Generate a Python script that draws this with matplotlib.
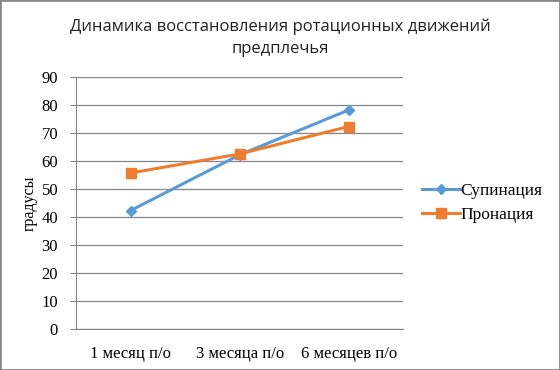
import matplotlib
matplotlib.use("Agg")
import matplotlib.pyplot as plt
from matplotlib.patches import Rectangle

categories = ["1 месяц п/о", "3 месяца п/о", "6 месяцев п/о"]
supination = [42.3, 62.2, 78.2]
pronation = [55.7, 62.5, 72.3]
yticks = list(range(0, 91, 10))

fig = plt.figure(figsize=(5.6, 3.7), dpi=100)
ax = fig.add_axes([0.136, 0.111, 0.584, 0.681])

x = range(len(categories))
ax.plot(x, supination, color="#5b9bd5", lw=2.2, marker="D", ms=5, label="Супинация")
ax.plot(x, pronation, color="#ed7d31", lw=2.2, marker="s", ms=7, label="Пронация")

ax.set_xlim(-0.5, len(categories) - 0.5)
ax.set_ylim(0, 90)
ax.set_yticks(yticks)
ax.set_xticks(list(x))
ax.set_xticklabels(categories)
serif = "Liberation Serif"
for lab in ax.get_xticklabels() + ax.get_yticklabels():
    lab.set_fontfamily(serif)
    lab.set_fontsize(12)
ax.tick_params(axis="x", length=0, pad=12)
ax.tick_params(axis="y", length=4, width=0.8, color="#868686", pad=9)
ax.grid(axis="y", color="#868686", lw=0.9)
ax.set_axisbelow(True)
for s in ["top", "right"]:
    ax.spines[s].set_visible(False)
ax.spines["left"].set_color("#868686")
ax.spines["bottom"].set_color("#868686")

ax.set_ylabel("градусы", fontfamily=serif, fontsize=11.5, labelpad=3)

fig.text(0.5, 0.898, "Динамика восстановления ротационных движений\nпредплечья",
         ha="center", va="center", fontsize=12, fontfamily="Open Sans",
         linespacing=1.45, color="#222222")

ax.legend(loc="center left", bbox_to_anchor=(1.01, 0.5), frameon=False,
          prop={"family": serif, "size": 12.5}, handlelength=2.2,
          handletextpad=0.0, labelspacing=0.5)

fig.patches.append(Rectangle((0, 0), 1, 1, transform=fig.transFigure, fill=False,
                             edgecolor="#888888", lw=2))

fig.savefig("out.png", dpi=100)
